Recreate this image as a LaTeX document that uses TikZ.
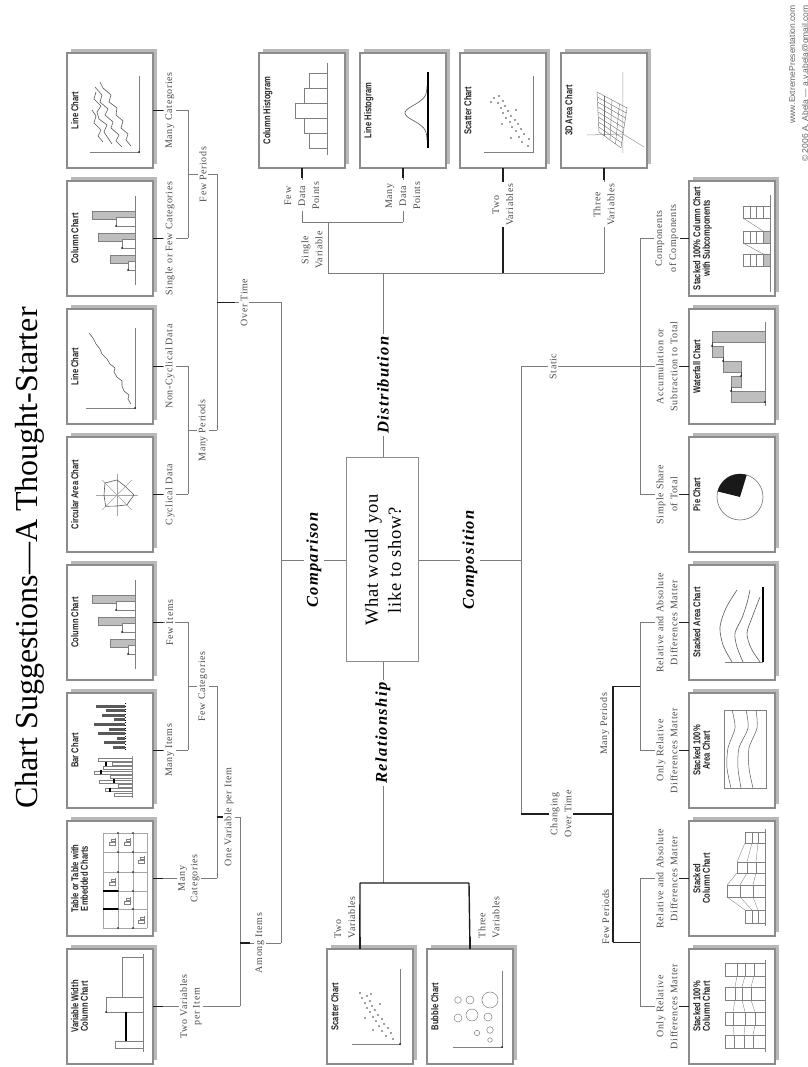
\documentclass[tikz,border=0pt]{standalone}
\usepackage{fontspec}
\setmainfont{Liberation Serif}
\newfontfamily\labfont[LetterSpace=6]{Liberation Serif}
\newfontfamily\bigfont[LetterSpace=8]{Liberation Serif}
\newfontfamily\qfont[LetterSpace=4]{Liberation Serif}
\newfontfamily\boxfont[FakeStretch=0.76]{Liberation Sans}
\newfontfamily\webfont{Liberation Sans}
\usetikzlibrary{calc}
\pgfdeclarelayer{background}
\pgfdeclarelayer{lines}
\pgfsetlayers{background,lines,main}
\definecolor{linecol}{HTML}{7C7C7C}
\definecolor{stubcol}{HTML}{1E1E1E}
\definecolor{labcol}{HTML}{4C4C4C}
\definecolor{boxcol}{HTML}{8C8C8C}
\definecolor{shadcol}{HTML}{B8B8B8}
\definecolor{iconcol}{HTML}{808080}
\definecolor{iconfill}{HTML}{BEBEBE}
\tikzset{
  conn/.style={draw=linecol, line width=0.9pt},
  dconn/.style={draw=stubcol, line width=1.4pt},
  lab/.style={font=\labfont\fontsize{10}{12.5}\selectfont, text=labcol, fill=white, inner sep=1.5pt, align=center},
  lab3/.style={lab, font=\labfont\fontsize{10}{14}\selectfont},
  big/.style={font=\bigfont\bfseries\itshape\fontsize{16.5}{18}\selectfont, text=black, fill=white, inner sep=2.5pt},
  cbox/.style={draw=boxcol, line width=1.1pt, fill=white, minimum width=115pt, minimum height=86pt, inner sep=0pt, outer sep=0pt},
  ctitle/.style={font=\boxfont\bfseries\fontsize{10}{9.5}\selectfont, text=black!85, align=center, inner sep=0pt},
  ic/.style={draw=iconcol, line width=0.6pt},
  icd/.style={draw=black!65, line width=0.6pt},
}
\newcommand\chartbox[5]{%
  \fill[shadcol] (#2+4,#3-4) rectangle ++(115,86);
  \node[cbox, anchor=south west] (#1) at (#2,#3) {};
  \node[ctitle, anchor=north] (#1-t) at (#2+57.5,#3+82) {#4};
  \begin{scope}[shift={(#2,#3)}]#5\end{scope}%
}
% ---------- icons (local box coordinates 115 x 86) ----------
\newcommand\icVarWidth{%
  \draw[ic] (12,10)--(110,10);
  \draw[ic,fill=white] (16,10) rectangle (23,38);
  \draw[ic,fill=white] (52,10) rectangle (67,47);
  \draw[ic,fill=white] (67,10) rectangle (107,31);
  \draw[black,line width=1.4pt] (23,27)--(52,27);
  \fill[black] (52,47) circle (0.9);
}
\newcommand\icTable{%
  \foreach \x in {8,27,45,64,84,103} \draw[draw=black!35,line width=0.5pt] (\x,6)--(\x,50);
  \foreach \y in {6,20,35,50} \draw[draw=black!35,line width=0.5pt] (8,\y)--(103,\y);
  \foreach \x in {8,27,45,64,84,103} {\fill[black] (\x,20) circle (0.8); \fill[black] (\x,35) circle (0.8);}
  \draw[black,line width=1.4pt] (27,35)--(27,50) (45,35)--(45,50);
  \foreach \cx/\cy in {12/9, 72/9, 31/23, 90/38, 50/38, 90/23}{%
    \draw[ic,line width=0.35pt] (\cx,\cy)--++(8,0);
    \draw[ic,line width=0.35pt,fill=white] (\cx+1,\cy) rectangle ++(2.5,6);
    \draw[ic,line width=0.35pt,fill=white] (\cx+4.5,\cy) rectangle ++(2.5,3.5);}
}
\newcommand\icBar{%
  \draw[draw=black!40,line width=0.5pt] (10,21)--(52,21);
  \foreach \i/\h in {0/18,1/27,2/14,3/33,4/22,5/38,6/29,7/20,8/34}{%
    \draw[ic,line width=0.45pt,fill=white] (12+4.4*\i,21) rectangle ++(3,\h);}
  \foreach \i/\h in {1/22,3/18,5/31,7/26}{%
    \draw[black,line width=1.1pt] (11.5+4.4*\i,21+\h)--++(4,0);}
  \draw[black,line width=0.7pt,dotted] (58,28)--(106,28);
  \foreach \i/\h in {0/12,1/21,2/8,3/27,4/16,5/31,6/11,7/23,8/19,9/29}{%
    \fill[black!65] (59+4.6*\i,28) rectangle ++(3,\h);}
}
\newcommand\icColumn{%
  \draw[ic] (11,18)--(100,18);
  \foreach \x/\g/\w in {33/43/25, 55/55/31, 77/61/37}{%
    \draw[ic,fill=iconfill] (\x,18) rectangle (\x+8,\g);
    \draw[ic,fill=white] (\x-7,18) rectangle (\x+2,\w);
    \fill[black] (\x-7,\w) circle (0.8);}
}
\newcommand\icRadar{%
  \begin{scope}[shift={(57,36)}]
  \foreach \a in {0,45,...,315} \draw[draw=black!35,line width=0.5pt] (0,0)--(\a:21);
  \draw[icd] (0:15)--(45:17)--(90:13)--(135:16)--(180:11)--(225:14)--(270:17)--(315:12)--cycle;
  \end{scope}
}
\newcommand\icLineOne{%
  \draw[ic] (16,67)--(16,18)--(96,18);
  \fill[black] (16,18) circle (0.9);
  \draw[icd] (20,22)--(25,25)--(29,24)--(33,29)--(38,31)--(43,31)--(47,36)--(52,39)--(56,38)--(60,43)--(65,46)--(70,51)--(75,53)--(80,57)--(86,60)--(91,64);
}
\newcommand\icLineMany{%
  \draw[ic] (16,63)--(16,14)--(92,14);
  \fill[black] (16,14) circle (0.9);
  \draw[icd] (22,22)--(28,27)--(34,25)--(40,32)--(47,30)--(53,37)--(60,36)--(66,44)--(73,42)--(80,50)--(86,53);
  \draw[icd] (21,31)--(27,37)--(33,34)--(40,42)--(46,40)--(53,48)--(59,45)--(66,53)--(73,51)--(81,58);
  \draw[icd] (24,41)--(30,45)--(36,49)--(43,46)--(49,54)--(56,56)--(62,52)--(69,59)--(76,57);
  \draw[icd] (26,50)--(32,55)--(38,52)--(45,59)--(52,57)--(58,61);
}
\newcommand\icColHist{%
  \draw[ic] (13,18)--(105,18);
  \foreach \x/\h in {20/36,35/41,50/50,65/41,80/36}{\draw[ic,line width=0.5pt,fill=white] (\x,18) rectangle (\x+15,\h);}
}
\newcommand\icLineHist{%
  \draw[black,line width=1.4pt] (20,18)--(96,18);
  \draw[icd,domain=28:82,samples=50,smooth] plot (\x,{19+22*exp(-((\x-55)/11)*((\x-55)/11))});
}
\newcommand\icScatterD{%
  \draw[ic] (16,62)--(16,13)--(92,13);
  \foreach \x/\y in {22/18,26/24,29/17,31/27,34/22,37/30,39/25,41/34,44/28,46/36,48/31,50/40,52/35,55/43,57/38,60/45,62/41,65/48,67/43,70/52,72/47,44/44,58/30,30/35,66/55}
    \fill[black!75] (\x,\y) circle (0.9);
}
\newcommand\icThreeD{%
  \draw[draw=black!40,line width=0.5pt] (15,24)--(96,24) (34,24)--(33,60) (34,24)--(21,3);
  \foreach \t in {0,0.125,0.25,0.375,0.5,0.625,0.75,0.875,1}
    \draw[draw=black!55,line width=0.4pt] ($(20,26)!\t!(60,20)$)--($(36,48)!\t!(76,50)$);
  \foreach \s in {0,0.25,0.5,0.75,1}
    \draw[draw=black!55,line width=0.4pt] ($(20,26)!\s!(36,48)$)--($(60,20)!\s!(76,50)$);
}
\newcommand\icScatterR{%
  \draw[ic] (20,61)--(20,13)--(95,13);
  \fill[black] (20,13) circle (0.8);
  \foreach \x/\y in {25/20,28/27,31/22,33/31,36/25,38/34,40/29,43/37,45/31,47/40,49/35,52/43,54/38,56/46,58/41,61/48,63/43,66/51,68/46,71/53,46/48,60/33,34/40,70/42}
    \fill[black!75] (\x,\y) circle (0.9);
}
\newcommand\icBubble{%
  \draw[ic] (17,60)--(17,11)--(93,11);
  \fill[black] (17,11) circle (0.8);
  \foreach \x/\y/\r in {64/55/3.3, 64/43/4, 64/23/8, 46/55/4, 49/41/6, 47/25/4, 31/36/2.7, 34/23/3.3, 24/23/2.3}
    \draw[ic,line width=0.5pt] (\x,\y) circle (\r);
}
\newcommand\icStackHundredCol{%
  \draw[ic] (12,10)--(104,10);
  \draw[draw=black!45,line width=0.4pt] (29,22)--(39,20) (29,31)--(39,30) (29,41)--(39,42) (52,20)--(64,24) (52,30)--(64,33) (52,42)--(64,40) (77,24)--(88,21) (77,33)--(88,30) (77,40)--(88,38);
  \foreach \x/\a/\b/\c in {16/22/31/41, 39/20/30/42, 64/24/33/40, 88/21/30/38}{%
    \draw[ic,line width=0.5pt] (\x,10) rectangle ++(13,40);
    \draw[ic,line width=0.4pt] (\x,\a)--++(13,0) (\x,\b)--++(13,0) (\x,\c)--++(13,0);}
}
\newcommand\icStackCol{%
  \draw[ic] (10,10)--(107,10);
  \draw[draw=black!45,line width=0.4pt] (26,17)--(39,22) (26,23)--(39,35) (26,30)--(39,48) (51,22)--(63,19) (51,35)--(63,28) (51,48)--(63,38) (74,19)--(93,17) (74,28)--(93,23) (74,38)--(93,30);
  \foreach \x/\w/\a/\b/\t in {13/13/17/23/30, 39/12/22/35/48, 63/11/19/28/38, 93/11/17/23/30}{%
    \draw[ic,line width=0.5pt] (\x,10) rectangle (\x+\w,\t);
    \draw[ic,line width=0.4pt] (\x,\a)--++(\w,0) (\x,\b)--++(\w,0);}
}
\newcommand\icStackHundredArea{%
  \draw[ic,line width=0.5pt] (20,9) rectangle (98,51);
  \draw[icd,line width=0.5pt] plot[smooth] coordinates {(20,44) (40,48) (60,47) (80,40) (98,43)};
  \draw[icd,line width=0.5pt] plot[smooth] coordinates {(20,34) (40,37) (60,36) (80,27) (98,29)};
  \draw[icd,line width=0.5pt] plot[smooth] coordinates {(20,22) (40,26) (60,26) (80,18) (98,19)};
}
\newcommand\icStackArea{%
  \draw[ic,line width=0.5pt] (18,12)--(18,50);
  \draw[icd] plot[smooth] coordinates {(18,43) (35,52) (53,55) (72,49) (90,38)};
  \draw[icd] plot[smooth] coordinates {(18,32) (33,38) (47,40) (62,33) (77,28) (90,25)};
  \draw[icd] plot[smooth] coordinates {(18,15) (32,24) (47,28) (65,22) (83,15)};
  \draw[black,line width=1.4pt] (18,12)--(93,12);
}
\newcommand\icPie{%
  \begin{scope}[shift={(55,35)}]
  \draw[draw=black!55,line width=0.6pt,fill=white] (0,0) circle (23);
  \fill[black!90] (0,0)--(-17:23) arc[start angle=-17,end angle=76,radius=23]--cycle;
  \end{scope}
}
\newcommand\icWaterfall{%
  \draw[ic] (18,10)--(102,10);
  \draw[ic,fill=iconfill] (22,10) rectangle (33,44);
  \draw[ic,fill=iconfill] (37,34) rectangle (48,44);
  \draw[ic,fill=iconfill] (52,34) rectangle (63,52);
  \draw[ic,fill=iconfill] (67,52) rectangle (78,63);
  \draw[ic,fill=iconfill] (82,10) rectangle (93,63);
  \draw[black!70,line width=0.5pt] (33,44)--(37,44) (48,34)--(52,34) (63,52)--(67,52) (78,63)--(82,63);
  \foreach \x/\y in {33/44,48/34,63/52,78/63,22/10} \fill[black] (\x,\y) circle (0.9);
}
\newcommand\icSubcomp{%
  \draw[ic] (4,5)--(101,5);
  \fill[iconfill] (30,5) rectangle (42,12) (53,5) rectangle (65,12);
  \foreach \x in {30,53,78}{%
    \draw[ic,line width=0.45pt] (\x,5) rectangle ++(12,27);
    \foreach \y in {12,18.5,25} \draw[ic,line width=0.4pt] (\x,\y)--++(12,0);}
  \draw[ic,line width=0.4pt] (42,12)--(53,32) (65,12)--(78,32);
}
\begin{document}
\begin{tikzpicture}[x=1pt,y=1pt]
\begin{scope}[rotate=90, transform shape]
\begin{pgfonlayer}{background}
\fill[white] (0,0) rectangle (1067,807);
\end{pgfonlayer}
\useasboundingbox (0,0) rectangle (1067,807);

% title
\node[anchor=base, font=\fontsize{32}{36}\selectfont, text=black, inner sep=0pt] (title) at (509,769) {Chart Suggestions—A Thought-Starter};

% comparison boxes
\chartbox{vw}{3}{654}{Variable Width\\Column Chart}{\icVarWidth}
\chartbox{tb}{131}{654}{Table or Table with\\Embedded Charts}{\icTable}
\chartbox{bar}{259}{654}{Bar Chart}{\icBar}
\chartbox{col1}{387}{654}{Column Chart}{\icColumn}
\chartbox{circ}{515}{654}{Circular Area Chart}{\icRadar}
\chartbox{line1}{643}{654}{Line Chart}{\icLineOne}
\chartbox{col2}{771}{654}{Column Chart}{\icColumn}
\chartbox{line2}{899}{654}{Line Chart}{\icLineMany}
% distribution boxes
\chartbox{ch}{899}{462}{Column Histogram}{\icColHist}
\chartbox{lh}{899}{361}{Line Histogram}{\icLineHist}
\chartbox{sc}{899}{261}{Scatter Chart}{\icScatterD}
\chartbox{dd}{899}{160}{3D Area Chart}{\icThreeD}
% relationship boxes
\chartbox{rs}{3}{394}{Scatter Chart}{\icScatterR}
\chartbox{bb}{3}{294}{Bubble Chart}{\icBubble}
% composition boxes
\chartbox{sp}{3}{32}{Stacked 100\%\\Column Chart}{\icStackHundredCol}
\chartbox{scc}{131}{32}{Stacked\\Column Chart}{\icStackCol}
\chartbox{sah}{259}{32}{Stacked 100\%\\Area Chart}{\icStackHundredArea}
\chartbox{sa}{387}{32}{Stacked Area Chart}{\icStackArea}
\chartbox{pie}{515}{32}{Pie Chart}{\icPie}
\chartbox{wf}{643}{32}{Waterfall Chart}{\icWaterfall}
\chartbox{sub}{771}{32}{Stacked 100\% Column Chart\\with Subcomponents}{\icSubcomp}

% central question
\node[draw=boxcol, line width=1pt, fill=white, minimum width=204pt, minimum height=72pt, align=center,
      font=\qfont\fontsize{18.5}{23}\selectfont, text=black] (main) at (507,424) {What would you\\like to show?};

% ---------- connectors ----------
\begin{pgfonlayer}{lines}
% comparison
\coordinate (jVW) at (60.5,567);
\coordinate (jAI) at (124,567);
\coordinate (jAIb) at (124,526);
\coordinate (jOVb) at (250,567);
\coordinate (jOV) at (250,590);
\coordinate (jTB) at (188.5,590);
\coordinate (jFCb) at (380.5,590);
\coordinate (jFC) at (380.5,619);
\coordinate (jBAR) at (316.5,619);
\coordinate (jCOL1) at (444.5,619);
\coordinate (jCIRC) at (572.5,619);
\coordinate (jLINE1) at (700.5,619);
\coordinate (jMP) at (636.5,619);
\coordinate (jMPb) at (636.5,590);
\coordinate (jCOL2) at (828.5,619);
\coordinate (jLINE2) at (956.5,619);
\coordinate (jFP) at (892.5,619);
\coordinate (jFPb) at (892.5,590);
\coordinate (jOT) at (764.5,590);
\coordinate (jOTb) at (764.5,526);
\coordinate (jCMP) at (507,526);
\draw[conn] (vw.south)--(jVW) (jVW)--(jOVb) (jAI)--(jAIb) (jOVb)--(jOV)
  (tb.south)--(jTB) (jTB)--(jFCb) (jFCb)--(jFC)
  (bar.south)--(jBAR) (col1.south)--(jCOL1) (jBAR)--(jCOL1)
  (circ.south)--(jCIRC) (line1.south)--(jLINE1) (jCIRC)--(jLINE1) (jMP)--(jMPb)
  (col2.south)--(jCOL2) (line2.south)--(jLINE2) (jCOL2)--(jLINE2) (jFP)--(jFPb)
  (jMPb)--(jFPb) (jOT)--(jOTb) (jAIb)--(jOTb) (jCMP)--(main.north);
% distribution
\coordinate (jCH) at (845,505);
\coordinate (jLH) at (845,404);
\coordinate (jSV) at (845,479);
\coordinate (jSVb) at (794,479);
\coordinate (jSC) at (794,304);
\coordinate (jDD) at (794,203);
\coordinate (jDI) at (794,424);
\draw[conn] (ch.west)--(jCH) (lh.west)--(jLH) (jCH)--(jLH) (jSV)--(jSVb) (jSVb)--(jDD)
  (dd.west)--(jDD) (main.east)--(jDI);
\draw[dconn] (sc.west)--(jSC);
% relationship
\coordinate (jRE) at (184,424);
\coordinate (jRT) at (184,447);
\coordinate (jRB) at (184,338);
\draw[conn] (main.west)--(jRE);
\draw[dconn] (jRT)--(jRB) (jRT)--(rs.10) (jRB)--(bb.east);
% composition
\coordinate (jCM) at (507,286);
\coordinate (jCOT) at (253,286);
\coordinate (jST) at (700.5,286);
\coordinate (jSTb) at (700.5,167);
\coordinate (jPIE) at (572.5,167);
\coordinate (jSUB) at (828.5,167);
\coordinate (jCOTb) at (253,194);
\coordinate (jFP2) at (124.5,194);
\coordinate (jMP2) at (380.5,194);
\coordinate (jFP2b) at (124.5,167);
\coordinate (jMP2b) at (380.5,167);
\coordinate (jSP) at (60.5,167);
\coordinate (jSCC) at (188.5,167);
\coordinate (jSAH) at (316.5,167);
\coordinate (jSA) at (444.5,167);
\draw[conn] (main.south)--(jCM) (jCOT)--(jST) (jST)--(jSTb) (jPIE)--(jSUB)
  (jPIE)--(pie.north) (jSTb)--(wf.north) (jSUB)--(sub.north)
  (jSP)--(jSCC) (jSAH)--(jSA) (jSP)--(sp.north) (jSCC)--(scc.north) (jSAH)--(sah.north) (jSA)--(sa.north);
\draw[dconn] (jCOT)--(jCOTb) (jFP2)--(jMP2) (jFP2)--(jFP2b) (jMP2)--(jMP2b);
\end{pgfonlayer}

% dark stubs at boxes
\draw[dconn] (vw.south)--++(0,-10) (tb.south)--++(0,-10) (bar.south)--++(0,-10) (col1.south)--++(0,-10)
  (circ.south)--++(0,-10) (line1.south)--++(0,-10) (col2.south)--++(0,-10) (line2.south)--++(0,-10);
\draw[dconn] (jOT)--++(0,-18) (jAI)--++(0,-10) (jOV)--++(0,-7);
\draw[dconn] (ch.west)--++(-10,0) (lh.west)--++(-10,0) (sc.west)--++(-12,0) (dd.west)--++(-12,0);
\draw[dconn] (rs.10)--++(12,0) (bb.east)--++(12,0);
\draw[dconn] (sp.north)--++(0,10) (scc.north)--++(0,10) (sah.north)--++(0,10) (sa.north)--++(0,10)
  (pie.north)--++(0,10) (wf.north)--++(0,10) (sub.north)--++(0,10);

% ---------- labels ----------
\node[lab] (lVW) at (60.5,616) {Two Variables\\per Item};
\node[lab] (lTB) at (188.5,618) {Many\\Categories};
\node[lab] (lBAR) at (316.5,637) {Many Items};
\node[lab] (lCOL1) at (444.5,637) {Few Items};
\node[lab] (lCIRC) at (572.5,637) {Cyclical Data};
\node[lab] (lLINE1) at (700.5,637) {Non-Cyclical Data};
\node[lab] (lCOL2) at (828.5,637) {Single or Few Categories};
\node[lab] (lLINE2) at (956.5,637) {Many Categories};
\node[lab] (lFC) at (380.5,604) {Few Categories};
\node[lab] (lMP) at (636.5,604) {Many Periods};
\node[lab] (lFP) at (892.5,604) {Few Periods};
\node[lab] (lOV) at (250,578) {One Variable per Item};
\node[lab] (lAI) at (124,547) {Among Items};
\node[lab] (lOT) at (764.5,563) {Over Time};

\node[lab3] (lCH) at (871,505) {Few\\Data\\Points};
\node[lab3] (lLH) at (871,404) {Many\\Data\\Points};
\node[lab3] (lSC) at (862,304) {Two\\Variables};
\node[lab3] (lDD) at (862,203) {Three\\Variables};
\node[lab3] (lSV) at (817,495) {Single\\Variable};

\node[lab3, align=left, anchor=west] (lRS) at (127,462) {Two\\Variables};
\node[lab3, align=left, anchor=west] (lBB) at (127,318) {Three\\Variables};

\node[lab3] (lST) at (700.5,254) {Static};
\node[lab3] (lCOT) at (253,246) {Changing\\Over Time};
\node[lab3, anchor=south] (lFP2) at (150,196) {Few Periods};
\node[lab3, anchor=south] (lMP2) at (343,196) {Many Periods};
\node[lab3] (lSP) at (60.5,140) {Only Relative\\Differences Matter};
\node[lab3] (lSCC) at (188.5,140) {Relative and Absolute\\Differences Matter};
\node[lab3] (lSAH) at (316.5,140) {Only Relative\\Differences Matter};
\node[lab3] (lSA) at (444.5,140) {Relative and Absolute\\Differences Matter};
\node[lab3] (lPIE) at (572.5,140) {Simple Share\\of Total};
\node[lab3] (lWF) at (700.5,140) {Accumulation or\\Subtraction to Total};
\node[lab3] (lSUB) at (828.5,140) {Components\\of Components};

\node[big] (lComparison) at (507,493) {Comparison};
\node[big] (lDistribution) at (682,424) {Distribution};
\node[big] (lRelationship) at (334,424) {Relationship};
\node[big] (lComposition) at (507,337) {Composition};

% credits
\node[anchor=base east, font=\webfont\fontsize{8.5}{10}\selectfont, text=black!60, inner sep=0pt] (web) at (1062,12) {www.ExtremePresentation.com};
\node[anchor=base east, font=\webfont\fontsize{8.5}{10}\selectfont, text=black!60, inner sep=0pt] (copy) at (1062,-1) {© 2006 A. Abela — a.v.abela@gmail.com};
\end{scope}
\end{tikzpicture}
\end{document}
